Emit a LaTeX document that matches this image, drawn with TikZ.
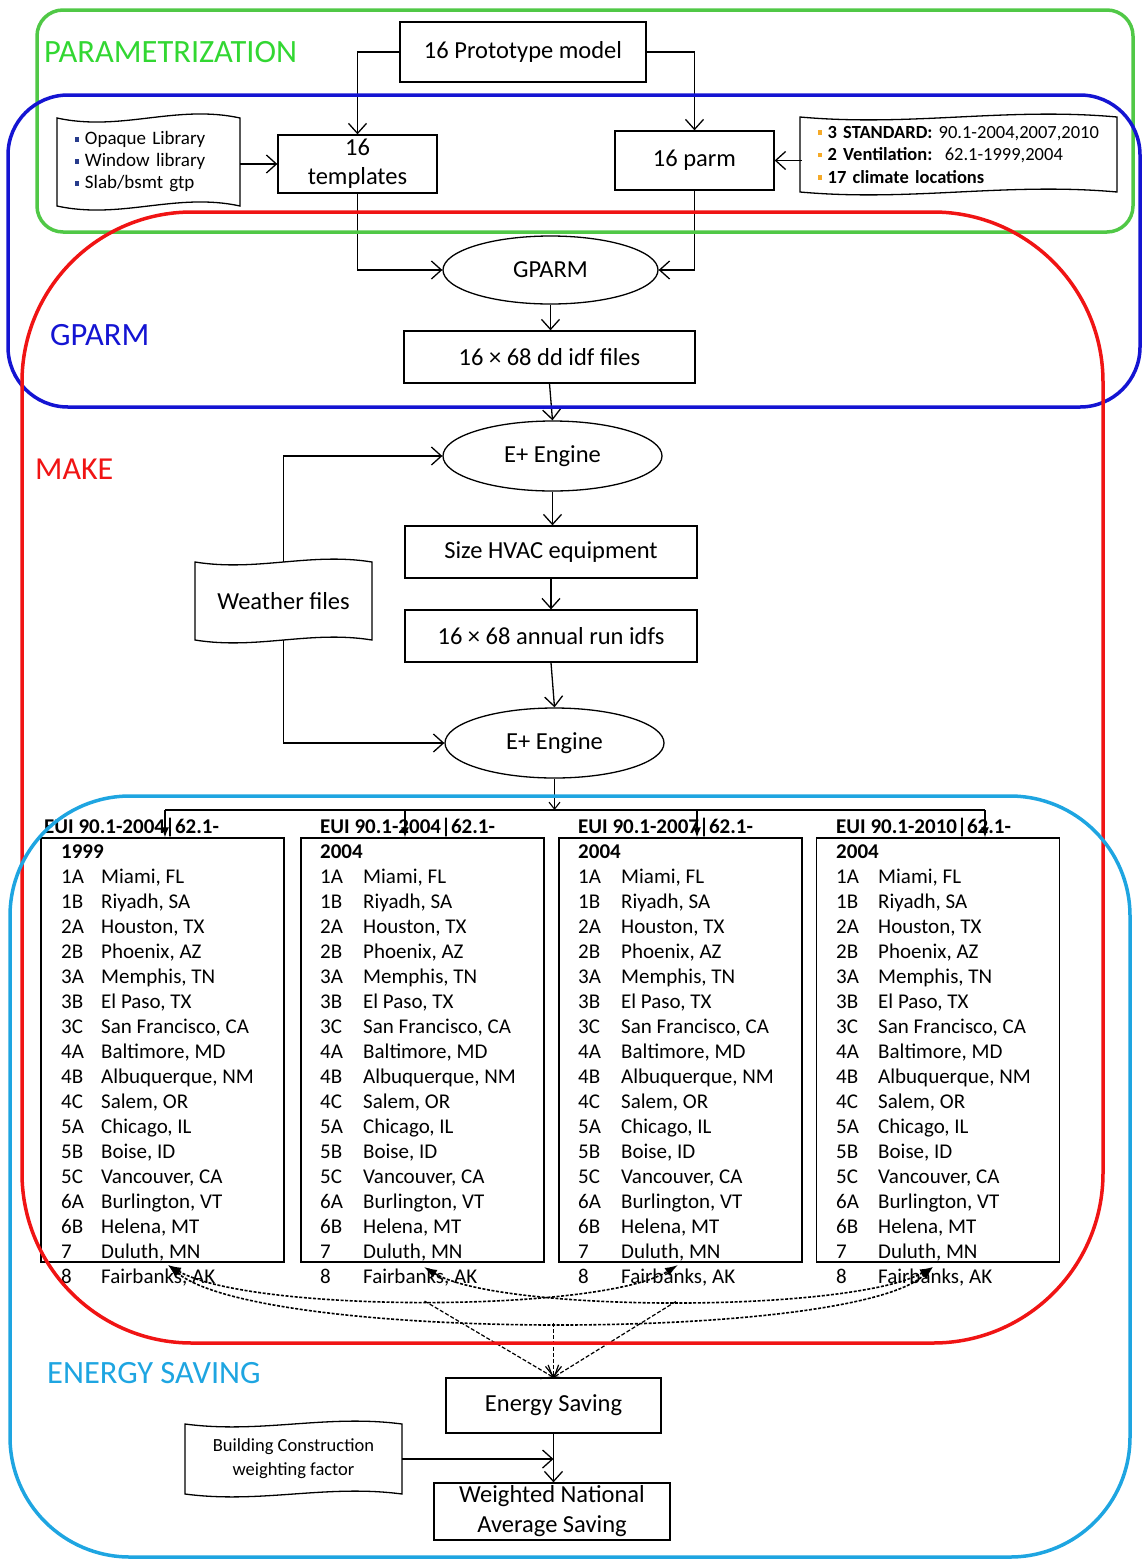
\documentclass[tikz,border=0pt]{standalone}
\usepackage{fontspec}
\setmainfont{Carlito}
\usetikzlibrary{arrows.meta,shapes.geometric,calc}
\definecolor{fgreen}{RGB}{80,200,70}
\definecolor{fblue}{RGB}{20,20,210}
\definecolor{fred}{RGB}{240,20,20}
\definecolor{fcyan}{RGB}{30,165,225}
\definecolor{lgreen}{RGB}{50,215,50}
\definecolor{bnavy}{RGB}{40,60,140}
\definecolor{borange}{RGB}{245,170,40}
\newcommand\tapeshape[5]{\draw[line width=1.3pt,fill=white] (#1,#2) .. controls ({#1+0.35*(#3-#1)},{#2+2*#5}) and ({#1+0.65*(#3-#1)},{#2-2*#5}) .. (#3,#2) -- (#3,#4) .. controls ({#1+0.65*(#3-#1)},{#4-2*#5}) and ({#1+0.35*(#3-#1)},{#4+2*#5}) .. (#1,#4) -- cycle;}
\newcommand\sqb[1]{\textcolor{#1}{\rule[0.18em]{0.25em}{0.25em}}\hspace{0.3em}}
\newcommand\citylist{1A & Miami, FL\\ 1B & Riyadh, SA\\ 2A & Houston, TX\\ 2B & Phoenix, AZ\\ 3A & Memphis, TN\\ 3B & El Paso, TX\\ 3C & San Francisco, CA\\ 4A & Baltimore, MD\\ 4B & Albuquerque, NM\\ 4C & Salem, OR\\ 5A & Chicago, IL\\ 5B & Boise, ID\\ 5C & Vancouver, CA\\ 6A & Burlington, VT\\ 6B & Helena, MT\\ 7 & Duluth, MN\\ 8 & Fairbanks, AK}
\begin{document}
\begin{tikzpicture}[x=1pt,y=-1pt,
 box/.style={draw, line width=1.3pt, fill=white, align=center, inner sep=2pt, font=\fontsize{24.5}{29}\selectfont},
 ell/.style={ellipse, draw, line width=1.3pt, fill=white, inner sep=0pt, font=\fontsize{24.5}{29}\selectfont},
 arr/.style={line width=1.3pt, -{Straight Barb[length=10pt,width=18pt,line width=1.3pt]}},
 colbox/.style={draw, line width=1.3pt, minimum width=243pt, minimum height=424pt, inner sep=0pt},
 lst/.style={inner sep=0pt, font=\fontsize{21}{25}\selectfont},
 colarr/.style={line width=1.3pt, -{Latex[length=10pt,width=8pt]}},
 dcurve/.style={line width=1.6pt, dash pattern=on 3pt off 1.6pt, {Latex[length=13pt,width=9pt]}-{Latex[length=13pt,width=9pt]}},
 darr/.style={line width=1.2pt, dash pattern=on 4pt off 2pt, -{Straight Barb[length=10pt,width=16pt,line width=1.2pt]}},
 frame/.style={line width=3.5pt},
 lab/.style={font=\fontsize{32.5}{38}\selectfont, anchor=west, inner sep=0pt}]
\useasboundingbox (0,0) rectangle (1142,1561);

% top part
\node[box, minimum width=246pt, minimum height=60pt] (proto) at (523,52) {16 Prototype model};
\node[box, minimum width=159pt, minimum height=58pt] (tmpl) at (357.5,164) {16\\templates};
\node[box, minimum width=159pt, minimum height=59pt] (parm) at (694.5,160.5) {16 parm};

\tapeshape{57}{118}{240}{206}{7}
\node[inner sep=0pt, minimum width=183pt, minimum height=88pt, text width=148pt, align=left, font=\fontsize{19}{22}\selectfont] (lib) at (148.5,162)
 {\sqb{bnavy}Opaque Library\\ \sqb{bnavy}Window library\\ \sqb{bnavy}Slab/bsmt gtp};

\tapeshape{800}{117}{1117}{192}{5}
\node[inner sep=0pt, minimum width=317pt, minimum height=75pt, text width=286pt, align=left, font=\fontsize{18.5}{22.5}\selectfont] (std) at (960.5,154.5)
 {\sqb{borange}\textbf{3 STANDARD:} 90.1-2004,2007,2010\\ \sqb{borange}\textbf{2 Ventilation:}\ \ 62.1-1999,2004\\ \sqb{borange}\textbf{17 climate locations}};

\node[ell, minimum width=215pt, minimum height=68pt] (gparm) at (550.5,270) {GPARM};
\node[box, minimum width=291pt, minimum height=52pt] (dd) at (549.5,357) {16 × 68 dd idf files};
\node[ell, minimum width=219pt, minimum height=70pt] (ep1) at (552.5,456) {E+ Engine};
\node[box, minimum width=292pt, minimum height=52pt] (hvac) at (551,552) {Size HVAC equipment};
\node[box, minimum width=292pt, minimum height=52pt] (annual) at (551,636) {16 × 68 annual run idfs};
\node[ell, minimum width=219pt, minimum height=70pt] (ep2) at (554.5,743) {E+ Engine};

\tapeshape{195}{562}{372}{640}{5}
\node[inner sep=0pt, minimum width=177pt, minimum height=78pt, font=\fontsize{24.5}{29}\selectfont] (wx) at (283.5,601) {Weather files};

\draw[arr] (proto.west) -| (tmpl.north);
\draw[arr] (proto.east) -| (parm.north);
\draw[arr] (lib.east |- tmpl.west) -- (tmpl.west);
\draw[arr] (std.west |- parm.east) -- (parm.east);
\draw[arr] (tmpl.south) |- (gparm.west);
\draw[arr] (parm.south) |- (gparm.east);
\draw[arr] (gparm.south) -- (dd.north -| gparm.south);
\draw[arr] (dd.south) -- (ep1.north);
\draw[arr] (ep1.south) -- (hvac.north -| ep1.south);
\draw[arr] (hvac.south) -- (annual.north);
\draw[arr] (annual.south) -- (ep2.north);
\draw[arr] (wx.north) |- (ep1.west);
\draw[arr] (wx.south) |- (ep2.west);

% columns
\node[colbox] (col1) at (162.5,1050) {};
\node[colbox] (col2) at (422.5,1050) {};
\node[colbox] (col3) at (680.5,1050) {};
\node[colbox] (col4) at (938,1050) {};

\node[lst, anchor=base west] (l1) at (61,833) {\begin{tabular}[t]{@{}p{40pt}@{}l@{}}\multicolumn{2}{@{}l@{}}{\hspace*{-17pt}\bfseries EUI 90.1-2004|62.1-}\\ \multicolumn{2}{@{}l@{}}{\bfseries 1999}\\ \citylist\end{tabular}};
\node[lst, anchor=base west] (l2) at (320,833) {\begin{tabular}[t]{@{}p{43pt}@{}l@{}}\multicolumn{2}{@{}l@{}}{\bfseries EUI 90.1-2004|62.1-}\\ \multicolumn{2}{@{}l@{}}{\bfseries 2004}\\ \citylist\end{tabular}};
\node[lst, anchor=base west] (l3) at (578,833) {\begin{tabular}[t]{@{}p{43pt}@{}l@{}}\multicolumn{2}{@{}l@{}}{\bfseries EUI 90.1-2007|62.1-}\\ \multicolumn{2}{@{}l@{}}{\bfseries 2004}\\ \citylist\end{tabular}};
\node[lst, anchor=base west] (l4) at (836,833) {\begin{tabular}[t]{@{}p{42pt}@{}l@{}}\multicolumn{2}{@{}l@{}}{\bfseries EUI 90.1-2010|62.1-}\\ \multicolumn{2}{@{}l@{}}{\bfseries 2004}\\ \citylist\end{tabular}};

\coordinate (d1) at (165,810);
\coordinate (d2) at (405,810);
\coordinate (d3) at (697,810);
\coordinate (d4) at (985,810);
\draw[arr, -{Straight Barb[length=7pt,width=11pt,line width=1.1pt]}] (ep2.south) -- (ep2.south |- d1);
\draw[line width=1.3pt] (d1) -- (d4);
\draw[colarr] (d1) -- (d1 |- col1.north);
\draw[colarr] (d2) -- (d2 |- col2.north);
\draw[colarr] (d3) -- (d3 |- col3.north);
\draw[colarr] (d4) -- (d4 |- col4.north);

% bottom part
\node[box, minimum width=215pt, minimum height=55pt] (es) at (553.5,1405.5) {Energy Saving};
\node[box, minimum width=236pt, minimum height=57pt, font=\fontsize{24.5}{30}\selectfont] (wnas) at (552,1511.5) {Weighted National\\Average Saving};
\tapeshape{185}{1424}{402}{1494}{5}
\node[inner sep=0pt, minimum width=217pt, minimum height=70pt, align=center, font=\fontsize{18.5}{24}\selectfont] (bc) at (293.5,1459) {Building Construction\\weighting factor};
\draw[arr] (es.south) -- (wnas.north -| es.south);
\draw[arr] (bc.east) -- (bc.east -| es.south);

% dashed comparisons
\coordinate (a1) at (168,1265);
\coordinate (a2) at (424,1267);
\coordinate (a3) at (678,1265);
\coordinate (a4) at (933,1267);
\draw[dcurve] (a1) .. controls (250,1313) and (600,1313) .. (a3) coordinate[pos=0.5] (m1);
\draw[dcurve] (a2) .. controls (500,1313) and (850,1313) .. (a4) coordinate[pos=0.5] (m2);
\draw[dcurve] (a1) .. controls (260,1342) and (850,1342) .. (a4) coordinate[pos=0.5] (m3);
\draw[darr] (m1) -- (es.north);
\draw[darr] (m2) -- (es.north);
\draw[darr] (m3 -| es.north) -- (es.north);

% frames
\draw[frame, fgreen, rounded corners=26pt] (37,10) rectangle (1133,232);
\draw[frame, fblue, rounded corners=60pt] (8,95) rectangle (1140,407);
\draw[frame, fred, rounded corners=170pt] (22,212) rectangle (1103,1343);
\draw[frame, fcyan, rounded corners=120pt] (10,796) rectangle (1130,1557);

\node[lab, text=lgreen] (lpar) at (44,52) {PARAMETRIZATION};
\node[lab, text=fblue] (lgp) at (50,335) {GPARM};
\node[lab, font=\fontsize{32}{38}\selectfont, text=fred] (lmk) at (35,469) {MAKE};
\node[lab, text=fcyan] (les) at (47,1373) {ENERGY SAVING};
\end{tikzpicture}
\end{document}
